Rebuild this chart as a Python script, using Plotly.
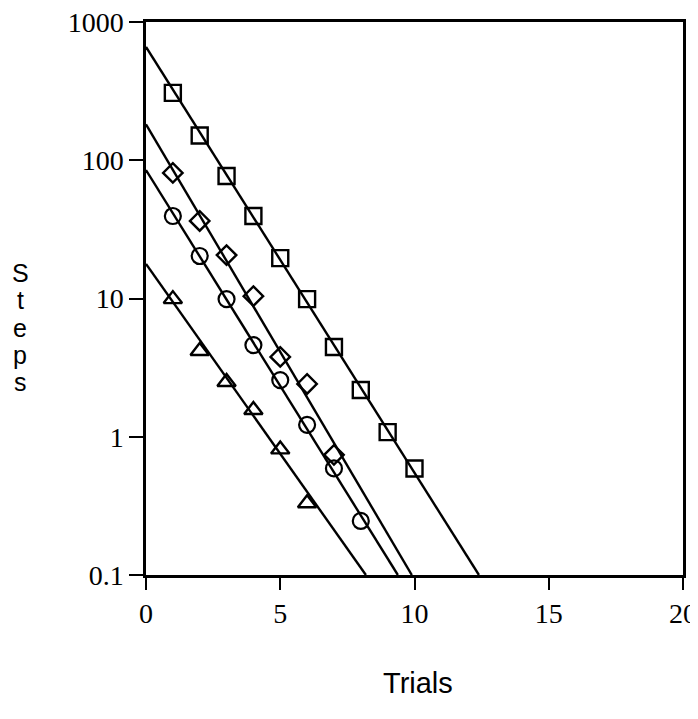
import plotly.graph_objects as go

# ---- data ----
sq_x = [1, 2, 3, 4, 5, 6, 7, 8, 9, 10]
sq_y = [307, 151, 77, 39.5, 19.6, 9.9, 4.46, 2.18, 1.08, 0.59]
di_x = [1, 2, 3, 4, 5, 6, 7]
di_y = [81, 36.4, 20.6, 10.4, 3.78, 2.41, 0.74]
ci_x = [1, 2, 3, 4, 5, 6, 7, 8]
ci_y = [39.5, 20.3, 9.9, 4.6, 2.57, 1.22, 0.59, 0.246]
tr_x = [1, 2, 3, 4, 5, 6]
tr_y = [9.9, 4.17, 2.49, 1.56, 0.81, 0.33]

# fitted lines: value at trial 0, and trial where the line reaches 0.1
fit_start_x = [0, 0, 0, 0]
fit_start_y = [660, 182, 85, 17.8]
fit_end_x = [12.4, 9.9, 9.38, 8.19]
fit_end_y = [0.1, 0.1, 0.1, 0.1]

y_tickvals = [0.1, 1, 10, 100, 1000]
y_ticktext = ["0.1", "1", "10", "100", "1000"]
x_tickvals = [0, 5, 10, 15, 20]
ylabel_letters = ["S", "t", "e", "p", "s"]

fig = go.Figure()
for i in range(4):
    fig.add_trace(go.Scatter(
        x=[fit_start_x[i], fit_end_x[i]], y=[fit_start_y[i], fit_end_y[i]],
        mode="lines", line=dict(color="black", width=2.4),
        showlegend=False, hoverinfo="skip"))

fig.add_trace(go.Scatter(x=sq_x, y=sq_y, mode="markers",
                         marker=dict(symbol="square-open", size=16, color="black", line=dict(width=2.4)),
                         showlegend=False))
fig.add_trace(go.Scatter(x=di_x, y=di_y, mode="markers",
                         marker=dict(symbol="diamond-open", size=15, color="black", line=dict(width=2.4)),
                         showlegend=False))
fig.add_trace(go.Scatter(x=ci_x, y=ci_y, mode="markers",
                         marker=dict(symbol="circle-open", size=16, color="black", line=dict(width=2.2)),
                         showlegend=False))
fig.add_trace(go.Scatter(x=tr_x, y=tr_y, mode="markers",
                         marker=dict(symbol="triangle-up-open", size=16, color="black", line=dict(width=2.4)),
                         showlegend=False))

# page body has an 8px default margin, so the figure is sized to fit inside it
fig.update_layout(
    width=690, height=711,
    margin=dict(l=138, r=15, t=14, b=144),
    paper_bgcolor="white", plot_bgcolor="white",
    font=dict(family="Liberation Serif", color="black", size=28),
)
fig.update_xaxes(range=[0, 20], tickvals=x_tickvals, ticks="outside", ticklen=12,
                 tickwidth=2, tickcolor="black", showline=True, linecolor="black",
                 linewidth=2.5, mirror=True, showgrid=False, zeroline=False,
                 automargin=False, ticklabeloverflow="allow",
                 tickfont=dict(family="Liberation Serif", size=28))
fig.update_yaxes(type="log", range=[-1, 3], tickvals=y_tickvals, ticktext=y_ticktext,
                 ticks="outside", ticklen=14, tickwidth=2, tickcolor="black",
                 showline=True, linecolor="black", linewidth=2.5, mirror=True,
                 showgrid=False, zeroline=False, automargin=False,
                 ticklabeloverflow="allow",
                 tickfont=dict(family="Liberation Serif", size=28))

for i, ch in enumerate(ylabel_letters):
    py = 273 + 27.3 * i
    fig.add_annotation(text=ch, xref="paper", yref="paper",
                       x=(20 - 146) / 537, y=(575 - py) / 553, showarrow=False,
                       xanchor="center", yanchor="middle",
                       font=dict(family="Liberation Sans", size=25))
fig.add_annotation(text="Trials", xref="paper", yref="paper",
                   x=(418 - 146) / 537, y=(575 - 683) / 553, showarrow=False,
                   xanchor="center", yanchor="middle",
                   font=dict(family="Liberation Sans", size=29))

fig.write_html("out.html")
